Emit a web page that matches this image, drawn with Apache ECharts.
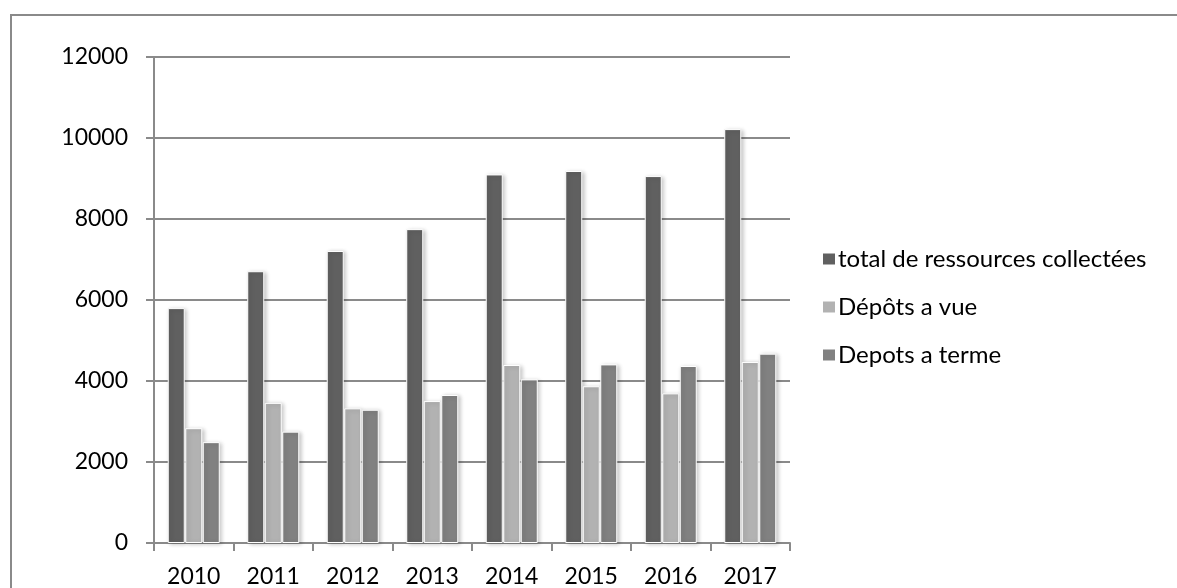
<!DOCTYPE html>
<html>
<head>
<meta charset="utf-8">
<script src="https://cdn.jsdelivr.net/npm/echarts@6/dist/echarts.min.js"></script>
<style>
  html, body { margin: 0; padding: 0; background: #ffffff; }
  #chart { width: 1177px; height: 588px; }
</style>
</head>
<body>
<div id="chart"></div>
<script>
// Années
const years = ['2010', '2011', '2012', '2013', '2014', '2015', '2016', '2017'];

// Ressources collectées par année
const totalRessources = [5800, 6710, 7210, 7750, 9100, 9185, 9060, 10220];
const depotsAVue = [2835, 3460, 3325, 3505, 4395, 3870, 3695, 4470];
const depotsATerme = [2490, 2750, 3290, 3655, 4040, 4410, 4370, 4675];

// Graduations de l'axe vertical
const yTicks = [0, 2000, 4000, 6000, 8000, 10000, 12000];

const seriesNames = ['total de ressources collectées', 'Dépôts a vue', 'Depots a terme'];
const seriesColors = ['#606060', '#b2b2b2', '#818181'];
const seriesData = [totalRessources, depotsAVue, depotsATerme];

const FONT = 'Lato, "Open Sans", sans-serif';
const AXIS_GRAY = '#8a8a8a';

const chart = echarts.init(document.getElementById('chart'), null, { renderer: 'canvas' });

chart.setOption({
  animation: false,
  backgroundColor: '#ffffff',
  graphic: [{
    type: 'rect',
    shape: { x: 11, y: 15, width: 1200, height: 600 },
    style: { fill: 'none', stroke: AXIS_GRAY, lineWidth: 2 },
    silent: true
  }],
  grid: { left: 154, right: 387, top: 57, bottom: 45, containLabel: false },
  legend: {
    orient: 'vertical',
    left: 816,
    top: 242,
    itemWidth: 14,
    itemHeight: 13,
    itemGap: 24,
    icon: 'rect',
    textStyle: { fontFamily: FONT, fontSize: 24, lineHeight: 24, color: '#000', padding: [0, 0, 0, -3] },
    data: seriesNames
  },
  xAxis: {
    type: 'category',
    data: years,
    boundaryGap: true,
    axisLine: { lineStyle: { color: AXIS_GRAY, width: 2 } },
    axisTick: { show: true, length: 8, alignWithLabel: false, lineStyle: { color: AXIS_GRAY, width: 2 } },
    axisLabel: { fontFamily: FONT, fontSize: 23, color: '#000', margin: 22 },
    splitLine: { show: false }
  },
  yAxis: {
    type: 'value',
    min: yTicks[0],
    max: yTicks[yTicks.length - 1],
    interval: yTicks[1] - yTicks[0],
    axisLine: { show: true, lineStyle: { color: AXIS_GRAY, width: 2 } },
    axisTick: { show: true, length: 8, lineStyle: { color: AXIS_GRAY, width: 2 } },
    axisLabel: {
      fontFamily: FONT, fontSize: 23, color: '#000', margin: 26,
      formatter: v => String(v)
    },
    splitLine: { show: true, lineStyle: { color: AXIS_GRAY, width: 2 } }
  },
  series: seriesNames.map((name, i) => ({
    name: name,
    type: 'bar',
    data: seriesData[i],
    barWidth: 17,
    barGap: '3%',
    itemStyle: {
      color: seriesColors[i],
      borderColor: '#ffffff',
      borderWidth: 1,
      shadowColor: 'rgba(0,0,0,0.22)',
      shadowBlur: 4,
      shadowOffsetX: 2,
      shadowOffsetY: 1
    }
  }))
});
</script>
</body>
</html>
